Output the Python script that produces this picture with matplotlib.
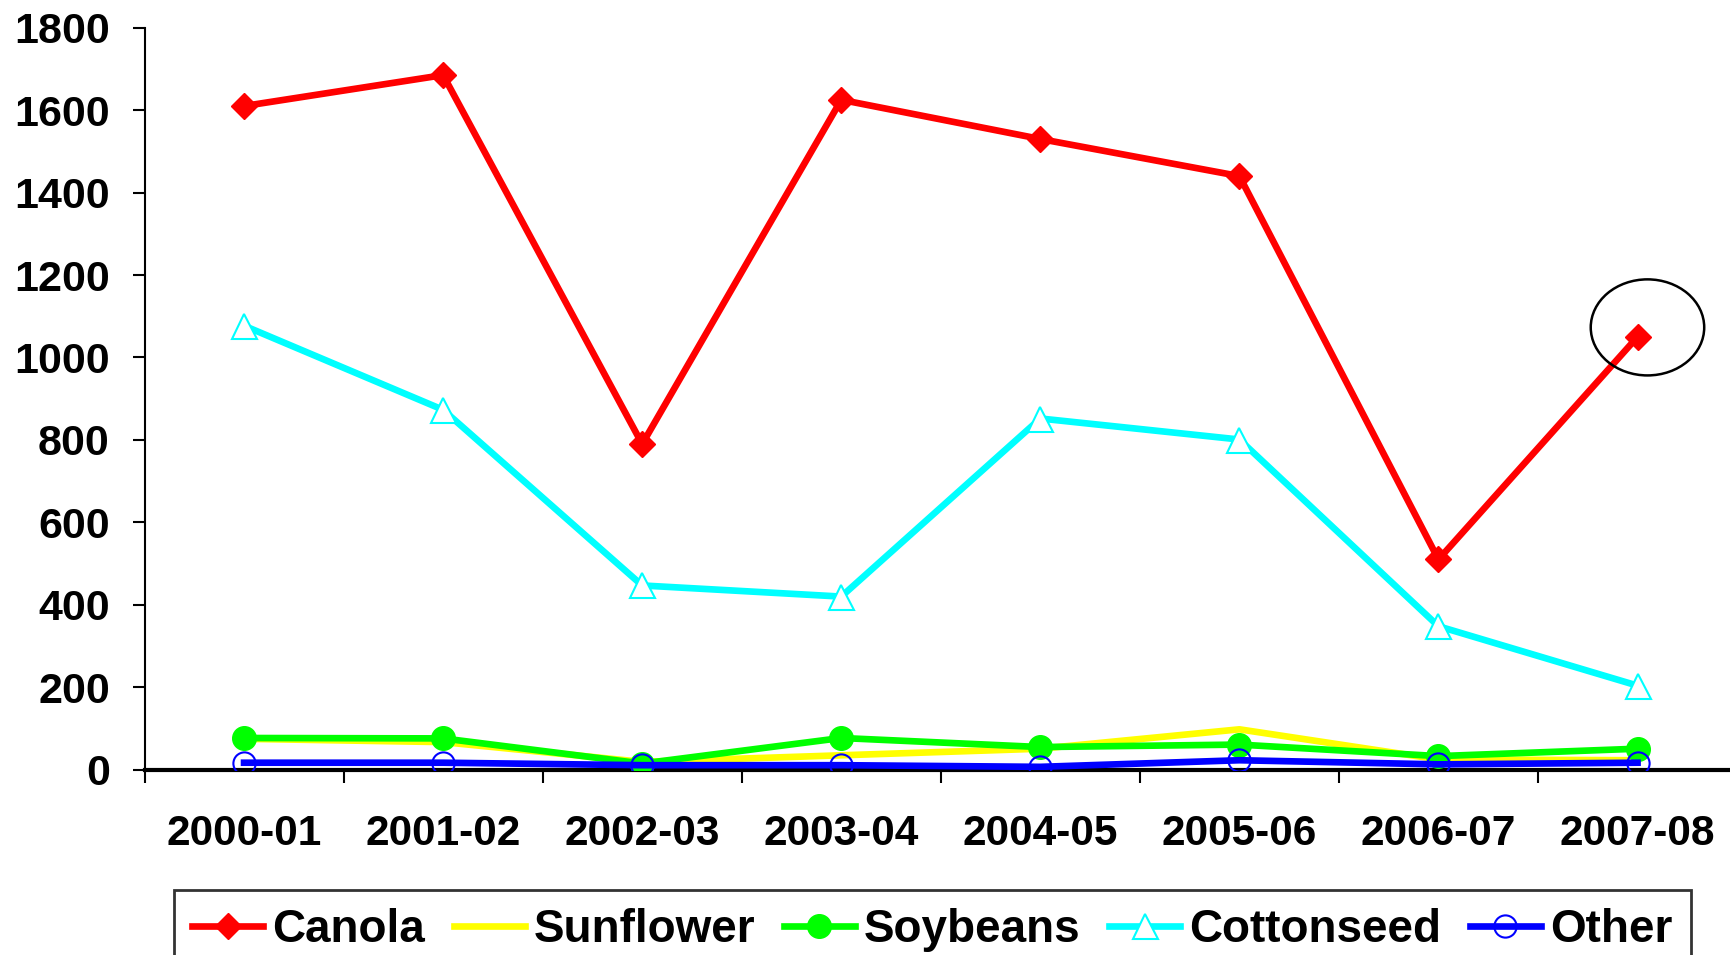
import numpy as np
import matplotlib
matplotlib.use("Agg")
import matplotlib.pyplot as plt
from matplotlib.patches import Ellipse

# values
seasons = ["2000-01", "2001-02", "2002-03", "2003-04",
           "2004-05", "2005-06", "2006-07", "2007-08"]
canola = [1610, 1685, 790, 1625, 1530, 1440, 510, 1050]
sunflower = [75, 67, 19, 35, 51, 98, 25, 23]
soybeans = [77, 76, 15, 77, 55, 61, 33, 51]
cottonseed = [1077, 873, 447, 420, 852, 801, 348, 204]
other = [17, 17, 11, 11, 7, 23, 13, 17]
y_ticks = [0, 200, 400, 600, 800, 1000, 1200, 1400, 1600, 1800]


def main():
    plt.rcParams['font.family'] = ['Liberation Sans', 'DejaVu Sans']
    plt.rcParams['font.weight'] = 'bold'

    fig = plt.figure(figsize=(17.31, 9.55), dpi=100)
    ax = fig.add_axes([0.0835, 0.194, 0.92, 0.777])
    x = np.arange(len(seasons))

    ax.plot(x, canola, color='#ff0000', lw=4.8, marker='D', ms=13,
            label='Canola', zorder=3)
    ax.plot(x, sunflower, color='#ffff00', lw=4.8, label='Sunflower', zorder=3)
    ax.plot(x, soybeans, color='#00ff00', lw=4.8, marker='o', ms=17,
            label='Soybeans', zorder=3)
    ax.plot(x, cottonseed, color='#00ffff', lw=4.8, marker='^', ms=18,
            mfc='white', mec='#00ffff', mew=1.5, label='Cottonseed', zorder=3)
    ax.plot(x, other, color='#0000ff', lw=4.8, marker='o', ms=16,
            mfc='none', mec='#0000ff', mew=1.5, label='Other', zorder=4)

    # circle around the last canola point
    ax.add_patch(Ellipse((7.05, 1073), 0.57, 233, fill=False,
                         edgecolor='black', lw=1.8, zorder=5))

    ax.set_xlim(-0.5, 7.5)
    ax.set_ylim(0, 1800)
    ax.set_yticks(y_ticks)
    ax.set_xticks(x)
    ax.set_xticklabels(seasons)
    ax.set_xticks(np.arange(-0.5, 8, 1), minor=True)
    ax.tick_params(axis='x', which='major', length=0, pad=32, labelsize=30.5)
    ax.tick_params(axis='x', which='minor', length=9, width=1.5, direction='out')
    ax.tick_params(axis='y', length=9, width=1.5, pad=16, labelsize=31)
    for lab in ax.get_xticklabels() + ax.get_yticklabels():
        lab.set_fontweight('bold')

    for side in ['top', 'right']:
        ax.spines[side].set_visible(False)
    ax.spines['left'].set_linewidth(1.5)
    ax.spines['bottom'].set_linewidth(3)
    ax.spines['bottom'].set_zorder(2)

    leg = fig.legend(loc='upper left', bbox_to_anchor=(0.1005, 0.068),
                     ncol=5, frameon=True, fancybox=False, edgecolor='black',
                     borderaxespad=0, borderpad=0.4, handlelength=1.55,
                     handletextpad=0.2, columnspacing=0.62,
                     prop={'size': 33, 'weight': 'bold'})
    leg.get_frame().set_linewidth(2)

    plt.savefig("out.png", dpi=100)


if __name__ == '__main__':
    main()
